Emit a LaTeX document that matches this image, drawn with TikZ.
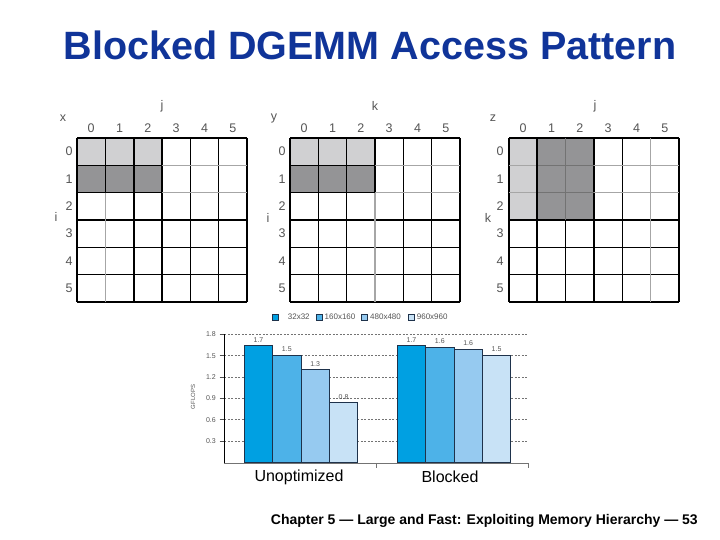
\documentclass[tikz,border=0pt]{standalone}
\usepackage{fontspec}
\setmainfont{Liberation Sans}
\definecolor{titleblue}{RGB}{16,52,153}
\definecolor{lightcell}{RGB}{208,208,210}
\definecolor{darkcell}{RGB}{148,148,150}
\definecolor{barA}{RGB}{0,160,226}
\definecolor{barB}{RGB}{77,178,232}
\definecolor{barC}{RGB}{150,202,240}
\definecolor{barD}{RGB}{200,226,246}
\definecolor{labgray}{RGB}{85,85,85}
\definecolor{bardge}{RGB}{30,50,75}
\tikzset{
  gridline/.style={draw=black, line width=1.1pt},
  gridgray/.style={draw=black!35, line width=1.1pt},
  gridthick/.style={draw=black, line width=1.8pt},
  axlab/.style={font=\fontsize{12.5}{12.5}\selectfont, text=labgray, inner sep=0pt},
  ticklab/.style={font=\fontsize{7}{7}\selectfont, text=labgray, inner sep=0pt, anchor=east},
  barlab/.style={font=\fontsize{7}{7}\selectfont, text=labgray, inner sep=0pt, anchor=base},
  barbox/.style={draw=bardge, line width=0.8pt},
  legbox/.style={draw=bardge, line width=0.5pt, minimum size=5.5pt, inner sep=0pt},
  legtext/.style={font=\fontsize{8}{8}\selectfont, text=labgray, inner sep=0pt, anchor=west},
  dashgrid/.style={draw=black!55, line width=0.6pt, dash pattern=on 2pt off 1.5pt},
  catlab/.style={font=\fontsize{16}{16}\selectfont, inner sep=0pt}
}
\begin{document}
\begin{tikzpicture}[x=1pt,y=-1pt]
\useasboundingbox (0,0) rectangle (720,540);
\fill[white] (0,0) rectangle (720,540);

% Title
\node[font=\bfseries\fontsize{39.5}{39.5}\selectfont, text=titleblue, anchor=base, inner sep=0pt] (title) at (370,59.5) {Blocked DGEMM Access Pattern};

% ---------- Grid x ----------
\begin{scope}[shift={(77,138)}]
  \fill[lightcell] (0,0) rectangle (85,27.33);
  \fill[darkcell] (0,27.33) rectangle (85,54.67);
  \foreach \i in {0,...,6} \draw[gridline] (\i*28.33,0) -- (\i*28.33,164);
  \foreach \i in {0,...,6} \draw[gridline] (0,\i*27.33) -- (170,\i*27.33);
  \draw[gridgray] (85,27.33) -- (170,27.33);
  \draw[gridgray] (85,54.67) -- (170,54.67);
  \draw[gridgray] (28.33,54.67) -- (28.33,164);
  \draw[gridthick] (56.67,0) -- (56.67,164);
  \foreach \c in {0,...,5} \node[axlab] (xc\c) at (\c*28.33+14.17,-10) {\c};
  \foreach \r in {0,...,5} \node[axlab] (xr\r) at (-8,\r*27.33+13.67) {\r};
\end{scope}
\node[axlab] (xname) at (63,118) {x};
\node[axlab] (xj) at (162,106) {j};
\node[axlab] (xi) at (56,217) {i};

% ---------- Grid y ----------
\begin{scope}[shift={(290,138)}]
  \fill[lightcell] (0,0) rectangle (85,27.33);
  \fill[darkcell] (0,27.33) rectangle (85,54.67);
  \foreach \i in {0,...,6} \draw[gridline] (\i*28.33,0) -- (\i*28.33,164);
  \foreach \i in {0,...,6} \draw[gridline] (0,\i*27.33) -- (170,\i*27.33);
  \draw[gridgray] (85,27.33) -- (170,27.33);
  \draw[gridgray] (85,54.67) -- (170,54.67);
  \draw[gridgray] (85,54.67) -- (85,164);
  \foreach \c in {0,...,5} \node[axlab] (yc\c) at (\c*28.33+14.17,-10) {\c};
  \foreach \r in {0,...,5} \node[axlab] (yr\r) at (-8,\r*27.33+13.67) {\r};
\end{scope}
\node[axlab] (yname) at (274,118) {y};
\node[axlab] (yk) at (375,106) {k};
\node[axlab] (yi) at (268,218) {i};

% ---------- Grid z ----------
\begin{scope}[shift={(509,138)}]
  \fill[lightcell] (0,0) rectangle (28.33,82);
  \fill[darkcell] (28.33,0) rectangle (85,82);
  \foreach \i in {0,...,6} \draw[gridline] (\i*28.33,0) -- (\i*28.33,164);
  \foreach \i in {0,...,6} \draw[gridline] (0,\i*27.33) -- (170,\i*27.33);
  \draw[gridgray] (0,27.33) -- (28.33,27.33);
  \draw[gridgray] (0,54.67) -- (28.33,54.67);
  \draw[draw=black!55, line width=1.1pt] (28.33,27.33) -- (85,27.33);
  \draw[draw=black!55, line width=1.1pt] (28.33,54.67) -- (85,54.67);
  \draw[draw=black!55, line width=1.1pt] (56.67,0) -- (56.67,82);
  \draw[gridgray] (85,27.33) -- (170,27.33);
  \draw[gridgray] (85,54.67) -- (170,54.67);
  \draw[gridgray] (141.67,0) -- (141.67,164);
  \draw[gridthick] (28.33,0) -- (28.33,164);
  \foreach \c in {0,...,5} \node[axlab] (zc\c) at (\c*28.33+14.17,-10) {\c};
  \foreach \r in {0,...,5} \node[axlab] (zr\r) at (-9,\r*27.33+13.67) {\r};
\end{scope}
\node[axlab] (zname) at (493,118) {z};
\node[axlab] (zj) at (595,106) {j};
\node[axlab] (zk) at (488,218) {k};

% ---------- Legend ----------
\node[legbox, fill=barA] (lg1) at (275,317) {};
\node[legtext] (lt1) at (287.7,317) {32x32};
\node[legbox, fill=barB] (lg2) at (319,317) {};
\node[legtext] (lt2) at (324.5,317) {160x160};
\node[legbox, fill=barC] (lg3) at (364.3,317) {};
\node[legtext] (lt3) at (370,317) {480x480};
\node[legbox, fill=barD] (lg4) at (411,317) {};
\node[legtext] (lt4) at (416.7,317) {960x960};

% ---------- Chart ----------
\foreach \v/\lab in {0.3/0.3,0.6/0.6,0.9/0.9,1.2/1.2,1.5/1.5,1.8/1.8} {
  \draw[dashgrid] (224.3,{462.3-71.1*\v}) -- (528,{462.3-71.1*\v});
  \draw[black!70, line width=0.6pt] (219.5,{462.3-71.1*\v}) -- (224.3,{462.3-71.1*\v});
  \node[ticklab] at (216,{462.3-71.1*\v}) {\lab};
}
% bars: unoptimized
\foreach \k/\v/\lab/\col in {0/1.64/1.7/barA,1/1.51/1.5/barB,2/1.30/1.3/barC,3/0.84/0.8/barD} {
  \filldraw[barbox, fill=\col] (244.3+\k*28.35,462.3) rectangle (244.3+\k*28.35+28.35,{462.3-71.1*\v});
  \node[barlab] at (244.3+\k*28.35+14.2,{462.3-71.1*\v-3.5}) {\lab};
}
% bars: blocked
\foreach \k/\v/\lab/\col in {0/1.64/1.7/barA,1/1.62/1.6/barB,2/1.59/1.6/barC,3/1.51/1.5/barD} {
  \filldraw[barbox, fill=\col] (397.3+\k*28.35,462.3) rectangle (397.3+\k*28.35+28.35,{462.3-71.1*\v});
  \node[barlab] at (397.3+\k*28.35+14.2,{462.3-71.1*\v-3.5}) {\lab};
}
% axes
\coordinate (ytop) at (224.3,334.3);
\coordinate (orig) at (224.3,463.3);
\coordinate (xend) at (528,463.3);
\draw[black, line width=0.9pt] (ytop) -- (orig);
\draw[black!55, line width=0.9pt] (orig) -- (xend);
\draw[black!55, line width=0.9pt] (376.5,463.3) -- (376.5,467.5);
\draw[black!55, line width=0.9pt] (528,463.3) -- (528,467.5);
\node[font=\fontsize{6}{6}\selectfont, text=labgray, rotate=90, inner sep=0pt] (gflops) at (193,397) {GFLOPS};

\node[catlab] (unopt) at (299,477) {Unoptimized};
\node[catlab] (blocked) at (450,477) {Blocked};

% Footer
\node[font=\bfseries\fontsize{14}{14}\selectfont, anchor=base east, inner sep=0pt] (footer) at (698,524) {Chapter 5 — Large and Fast: Exploiting Memory Hierarchy — 53};
\end{tikzpicture}
\end{document}
